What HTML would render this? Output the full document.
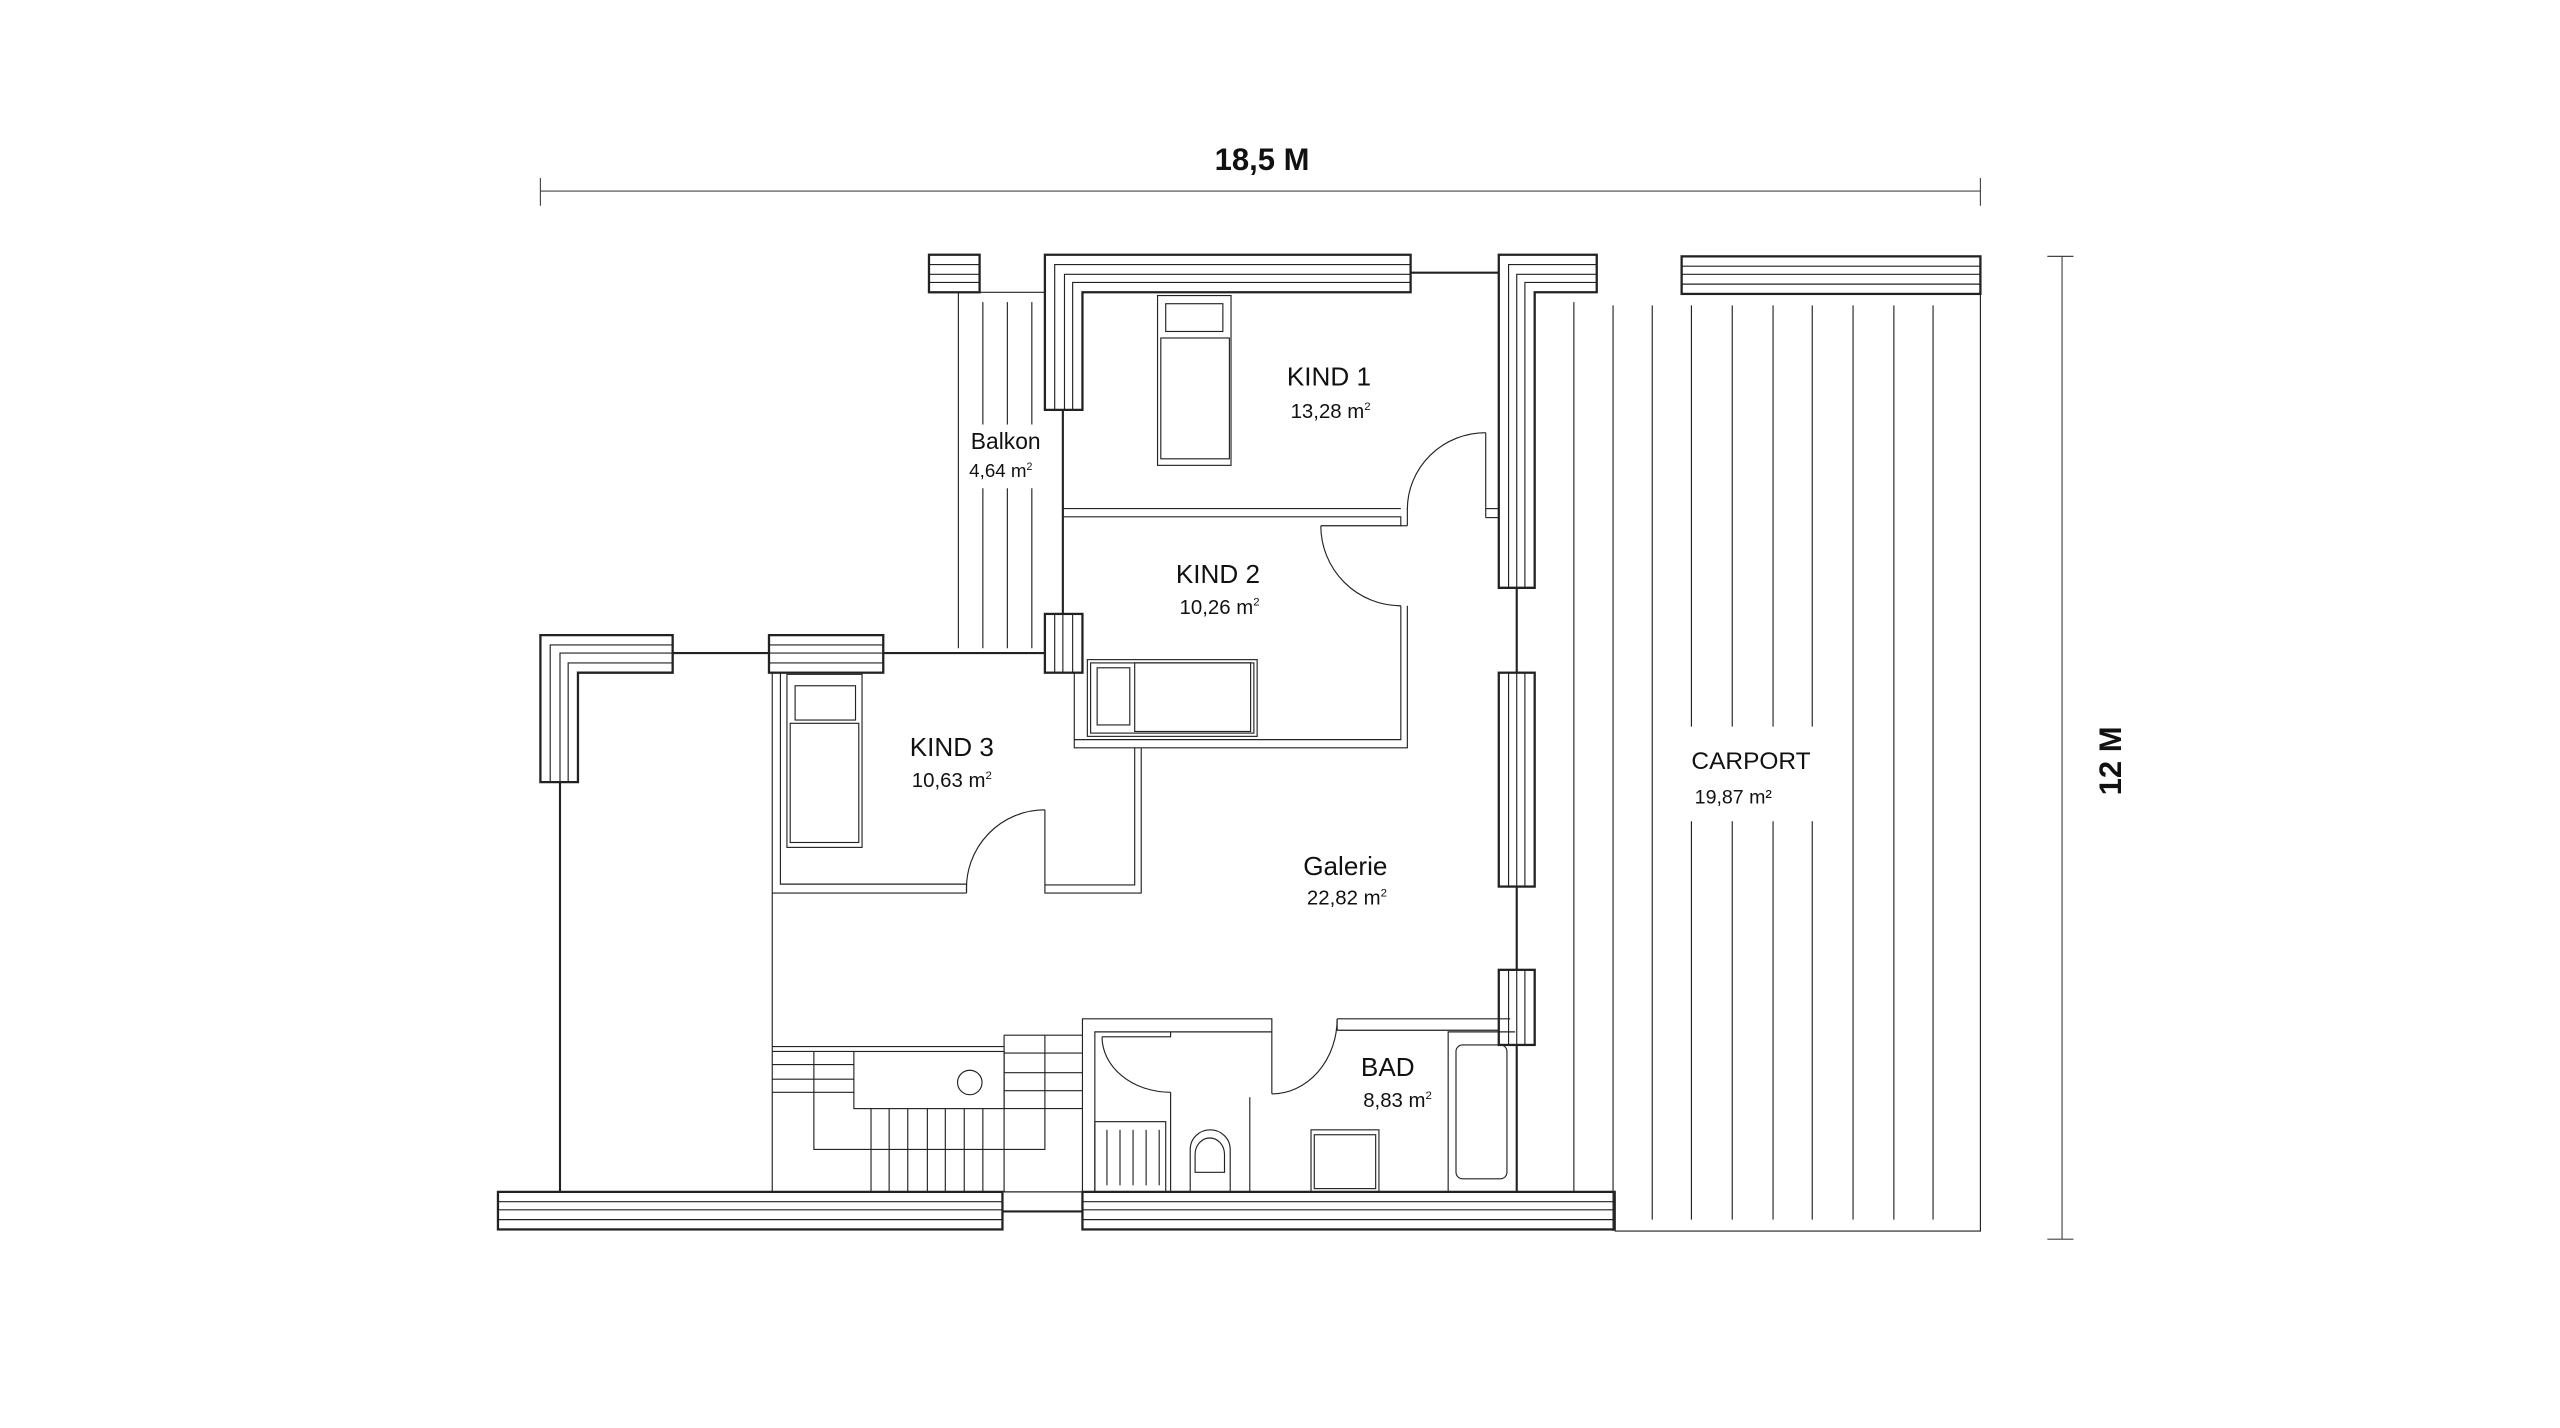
<!DOCTYPE html>
<html><head><meta charset="utf-8"><style>
html,body{margin:0;padding:0;background:#fff;}
svg{display:block;}
text{font-family:"Liberation Sans Narrow","Liberation Sans",sans-serif;fill:#111;}
</style></head><body>
<svg width="2560" height="1428" viewBox="0 0 1568 874.6" xmlns="http://www.w3.org/2000/svg">
<g fill="none" stroke="#222" stroke-width="0.7">
<!-- dimension lines -->
<line x1="331" y1="117" x2="1213" y2="117" stroke="#444"/>
<line x1="331" y1="109" x2="331" y2="126" stroke="#444"/>
<line x1="1213" y1="109" x2="1213" y2="126" stroke="#444"/>
<line x1="1263" y1="157" x2="1263" y2="759" stroke="#444"/>
<line x1="1254" y1="157" x2="1270" y2="157" stroke="#444"/>
<line x1="1254" y1="759" x2="1270" y2="759" stroke="#444"/>

<!-- L walls -->
<polygon points="640,156 864,156 864,179 663,179 663,251 640,251" stroke-width="1.4"/>
<polyline points="646,251 646,162 864,162"/>
<polyline points="652,251 652,168 864,168"/>
<polyline points="657,251 657,173 864,173"/>

<polygon points="918,156 978,156 978,179 940,179 940,360 918,360" stroke-width="1.4"/>
<polyline points="924,360 924,162 978,162"/>
<polyline points="929,360 929,168 978,168"/>
<polyline points="934,360 934,173 978,173"/>

<polygon points="331,389 412,389 412,412 354,412 354,479 331,479" stroke-width="1.4"/>
<polyline points="337,479 337,395 412,395"/>
<polyline points="343,479 343,400 412,400"/>
<polyline points="348,479 348,406 412,406"/>

<!-- horizontal blocks -->
<rect x="569" y="156" width="31" height="23" stroke-width="1.4"/>
<line x1="569" y1="162" x2="600" y2="162"/><line x1="569" y1="168" x2="600" y2="168"/><line x1="569" y1="173" x2="600" y2="173"/>
<rect x="471" y="389" width="70" height="23" stroke-width="1.4"/>
<line x1="471" y1="395" x2="541" y2="395"/><line x1="471" y1="400" x2="541" y2="400"/><line x1="471" y1="406" x2="541" y2="406"/>
<rect x="1030" y="157" width="183" height="23" stroke-width="1.4"/>
<line x1="1030" y1="163" x2="1213" y2="163"/><line x1="1030" y1="168" x2="1213" y2="168"/><line x1="1030" y1="174" x2="1213" y2="174"/>
<rect x="305" y="730" width="309" height="23" stroke-width="1.4"/>
<line x1="305" y1="736" x2="614" y2="736"/><line x1="305" y1="741" x2="614" y2="741"/><line x1="305" y1="747" x2="614" y2="747"/>
<rect x="663" y="730" width="326" height="23" stroke-width="1.4"/>
<line x1="663" y1="736" x2="989" y2="736"/><line x1="663" y1="741" x2="989" y2="741"/><line x1="663" y1="747" x2="989" y2="747"/>

<!-- vertical blocks -->
<rect x="640" y="376" width="23" height="36" stroke-width="1.4"/>
<line x1="646" y1="376" x2="646" y2="412"/><line x1="651" y1="376" x2="651" y2="412"/><line x1="657" y1="376" x2="657" y2="412"/>
<rect x="918" y="412" width="22" height="131" stroke-width="1.4"/>
<line x1="924" y1="412" x2="924" y2="543"/><line x1="929" y1="412" x2="929" y2="543"/><line x1="934" y1="412" x2="934" y2="543"/>
<rect x="918" y="594" width="22" height="46" stroke-width="1.4"/>
<line x1="924" y1="594" x2="924" y2="640"/><line x1="929" y1="594" x2="929" y2="640"/><line x1="934" y1="594" x2="934" y2="640"/>

<!-- thin connecting walls -->
<g stroke-width="1.3">
<line x1="864" y1="167" x2="918" y2="167"/>
<line x1="929" y1="360" x2="929" y2="412"/>
<line x1="929" y1="543" x2="929" y2="594"/>
<line x1="929" y1="640" x2="929" y2="730"/>
<line x1="651" y1="251" x2="651" y2="376"/>
<line x1="412" y1="400" x2="471" y2="400"/>
<line x1="541" y1="400" x2="640" y2="400"/>
<line x1="343" y1="479" x2="343" y2="730"/>
<line x1="614" y1="742" x2="663" y2="742"/>
</g>
<line x1="614" y1="730" x2="663" y2="730"/>

<!-- Balkon -->
<line x1="600" y1="179" x2="640" y2="179"/>
<line x1="587" y1="179" x2="587" y2="397"/>
<line x1="602" y1="185" x2="602" y2="260"/><line x1="602" y1="299" x2="602" y2="397"/>
<line x1="617" y1="185" x2="617" y2="260"/><line x1="617" y1="299" x2="617" y2="397"/>
<line x1="632" y1="185" x2="632" y2="260"/><line x1="632" y1="299" x2="632" y2="397"/>

<!-- KIND1 -->
<rect x="709" y="181" width="45" height="104"/>
<rect x="714" y="186" width="35" height="17"/>
<rect x="711" y="207" width="42" height="74"/>
<line x1="651" y1="311.5" x2="858" y2="311.5"/>
<polyline points="651,316.5 858,316.5 858,322 809,322"/>
<line x1="862" y1="311.5" x2="862" y2="322"/>
<polyline points="862,322 858,322"/>
<path d="M910,265 A48,47 0 0 0 862,312"/>
<line x1="910" y1="265" x2="910" y2="317"/>
<line x1="910" y1="311.5" x2="918" y2="311.5"/>
<line x1="910" y1="317" x2="918" y2="317"/>

<!-- KIND2 -->
<path d="M809,322 A49,49 0 0 0 858,371"/>
<polyline points="858,371 858,453 658,453"/>
<polyline points="862,371 862,458 658,458 658,412"/>
<rect x="666" y="404" width="104" height="47"/>
<rect x="668" y="406" width="100" height="43"/>
<rect x="672" y="409" width="20" height="35"/>
<rect x="695" y="406" width="71" height="42"/>

<!-- KIND3 -->
<line x1="473" y1="412" x2="473" y2="730"/>
<polyline points="478,412 478,541.5 592,541.5"/>
<line x1="473" y1="547" x2="592" y2="547"/>
<path d="M640,496 A48,48 0 0 0 592,546"/>
<line x1="592" y1="541.5" x2="592" y2="547"/>
<polyline points="640,496 640,547 699,547 699,458"/>
<polyline points="640,542 695,542 695,458"/>
<rect x="482" y="413" width="46" height="106"/>
<rect x="487" y="420" width="37" height="21"/>
<rect x="484" y="443" width="42" height="73"/>

<!-- stairs -->
<line x1="473" y1="641" x2="615" y2="641"/>
<line x1="473" y1="644" x2="523" y2="644"/>
<line x1="473" y1="652" x2="523" y2="652"/>
<line x1="473" y1="661" x2="523" y2="661"/>
<line x1="473" y1="669" x2="523" y2="669"/>
<rect x="523" y="644" width="92" height="35"/>
<circle cx="594" cy="663" r="7.5"/>
<polyline points="498.5,644 498.5,704 640,704 640,634"/>
<line x1="615" y1="634" x2="663" y2="634"/>
<line x1="615" y1="634" x2="615" y2="730"/>
<line x1="615" y1="645" x2="663" y2="645"/>
<line x1="615" y1="657" x2="663" y2="657"/>
<line x1="615" y1="668" x2="663" y2="668"/>
<line x1="615" y1="679" x2="663" y2="679"/>
<line x1="533.5" y1="679" x2="533.5" y2="730"/>
<line x1="544.6" y1="679" x2="544.6" y2="730"/>
<line x1="556" y1="679" x2="556" y2="730"/>
<line x1="568" y1="679" x2="568" y2="730"/>
<line x1="579" y1="679" x2="579" y2="730"/>
<line x1="590.6" y1="679" x2="590.6" y2="730"/>
<line x1="602" y1="679" x2="602" y2="730"/>

<!-- BAD -->
<polyline points="663,730 663,624 779,624 779,670"/>
<polyline points="670.6,730 670.6,632 779,632"/>
<path d="M819,624 A40,46 0 0 1 779,670"/>
<polyline points="819,624 925,624"/>
<polyline points="819,624 819,631 918,631"/>
<polyline points="675,635 717,635 717,632"/>
<path d="M675,635 A42,34 0 0 0 717,669"/>
<line x1="717" y1="669" x2="717" y2="730"/>
<rect x="670.6" y="687" width="43.4" height="43"/>
<line x1="678" y1="692" x2="678" y2="726"/><line x1="686" y1="692" x2="686" y2="726"/><line x1="694" y1="692" x2="694" y2="726"/><line x1="702" y1="692" x2="702" y2="726"/><line x1="710" y1="692" x2="710" y2="726"/>
<path d="M729,730 L729,704 A12.25,12 0 0 1 753.5,704 L753.5,730"/>
<path d="M732,718 L732,707 A9,10 0 0 1 750,707 L750,718 Z"/>
<line x1="765.5" y1="672" x2="765.5" y2="730"/>
<rect x="803" y="692" width="41.6" height="38"/>
<rect x="805" y="695" width="37.6" height="33"/>
<polyline points="887,730 887,632 928,632"/>
<rect x="891.8" y="640" width="31.2" height="82" rx="4"/>

<!-- carport -->
<polyline points="989,754 1213,754 1213,180"/>
<line x1="964" y1="185" x2="964" y2="730"/>
<line x1="988" y1="187" x2="988" y2="754"/>
<line x1="1012" y1="187" x2="1012" y2="747"/>
<line x1="1036" y1="187" x2="1036" y2="445"/><line x1="1036" y1="503" x2="1036" y2="747"/>
<line x1="1061" y1="187" x2="1061" y2="445"/><line x1="1061" y1="503" x2="1061" y2="747"/>
<line x1="1086" y1="187" x2="1086" y2="445"/><line x1="1086" y1="503" x2="1086" y2="747"/>
<line x1="1110" y1="187" x2="1110" y2="445"/><line x1="1110" y1="503" x2="1110" y2="747"/>
<line x1="1135" y1="187" x2="1135" y2="747"/>
<line x1="1160" y1="187" x2="1160" y2="747"/>
<line x1="1184" y1="187" x2="1184" y2="747"/>
</g>

<!-- text -->
<text x="773" y="104" font-size="19" font-weight="bold" text-anchor="middle">18,5 M</text>
<text x="0" y="0" font-size="19" font-weight="bold" text-anchor="middle" transform="translate(1299,466) rotate(-90)">12 M</text>
<text x="814" y="236" font-size="16" text-anchor="middle">KIND 1</text>
<text x="815" y="256" font-size="12.5" text-anchor="middle">13,28 m<tspan font-size="7" dy="-5">2</tspan></text>
<text x="616" y="275" font-size="14" text-anchor="middle">Balkon</text>
<text x="613" y="292" font-size="11.5" text-anchor="middle">4,64 m<tspan font-size="6.5" dy="-4">2</tspan></text>
<text x="746" y="357" font-size="16" text-anchor="middle">KIND 2</text>
<text x="747" y="376" font-size="12.5" text-anchor="middle">10,26 m<tspan font-size="7" dy="-5">2</tspan></text>
<text x="583" y="463" font-size="16" text-anchor="middle">KIND 3</text>
<text x="583" y="482" font-size="12.5" text-anchor="middle">10,63 m<tspan font-size="7" dy="-5">2</tspan></text>
<text x="824" y="536" font-size="16" text-anchor="middle">Galerie</text>
<text x="825" y="554" font-size="12.5" text-anchor="middle">22,82 m<tspan font-size="7" dy="-5">2</tspan></text>
<text x="850" y="659" font-size="16" text-anchor="middle">BAD</text>
<text x="856" y="678" font-size="12.5" text-anchor="middle">8,83 m<tspan font-size="7" dy="-5">2</tspan></text>
<text x="1036" y="471" font-size="15" style="font-family:'Liberation Sans',sans-serif">CARPORT</text>
<text x="1038" y="492" font-size="12" style="font-family:'Liberation Sans',sans-serif">19,87 m²</text>
</svg>
</body></html>
